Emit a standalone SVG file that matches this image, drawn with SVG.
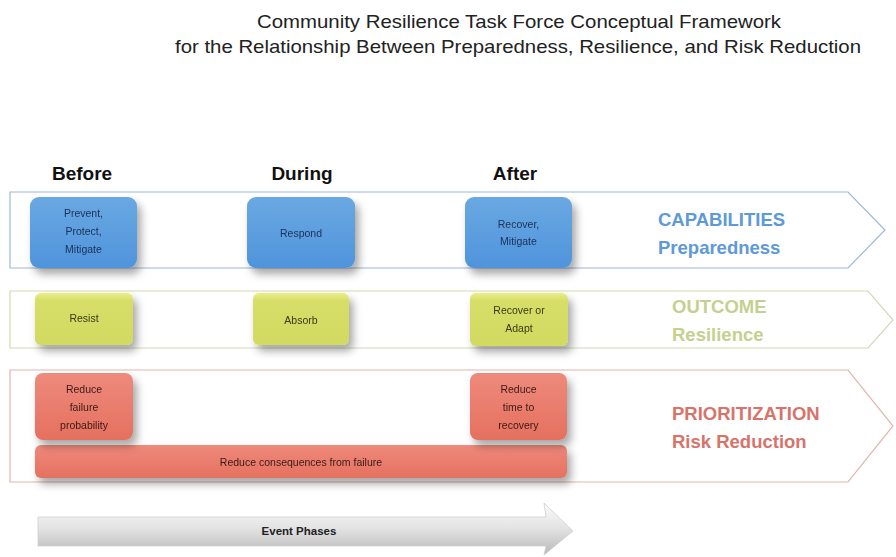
<svg xmlns="http://www.w3.org/2000/svg" width="896" height="557" viewBox="0 0 896 557">
<defs>
<filter id="sh" x="-20%" y="-20%" width="160%" height="170%">
<feDropShadow dx="4" dy="6" stdDeviation="4" flood-color="#000" flood-opacity="0.35"/>
</filter>
<linearGradient id="gB" x1="0" y1="0" x2="0" y2="1"><stop offset="0" stop-color="#6aa8e2"/><stop offset="1" stop-color="#4f94dc"/></linearGradient>
<linearGradient id="gY" x1="0" y1="0" x2="0" y2="1"><stop offset="0" stop-color="#e9ee85"/><stop offset="0.15" stop-color="#d6de68"/><stop offset="1" stop-color="#d2da62"/></linearGradient>
<linearGradient id="gR" x1="0" y1="0" x2="0" y2="1"><stop offset="0" stop-color="#ee8a7c"/><stop offset="1" stop-color="#e5705f"/></linearGradient>
<linearGradient id="gA" x1="0" y1="0" x2="0" y2="1"><stop offset="0" stop-color="#fbfbfb"/><stop offset="0.5" stop-color="#e2e2e2"/><stop offset="1" stop-color="#b8b8b8"/></linearGradient>
</defs>
<style>
text{font-family:"Liberation Sans",Arial,sans-serif}
.title{font-size:18.5px;fill:#222;text-anchor:middle}
.hdr{font-size:19px;font-weight:bold;fill:#111;text-anchor:middle}
.band{fill:#fff;stroke-width:1.2}
.bt{font-size:10.5px;text-anchor:middle}
.lab{font-size:18.5px;font-weight:bold}
</style>
<g id="title">
<text class="title" x="519" y="28" textLength="524" lengthAdjust="spacingAndGlyphs">Community Resilience Task Force Conceptual Framework</text>
<text class="title" x="518" y="53" textLength="686" lengthAdjust="spacingAndGlyphs">for the Relationship Between Preparedness, Resilience, and Risk Reduction</text>
</g>
<g id="headers">
<text class="hdr" x="82" y="180">Before</text>
<text class="hdr" x="302" y="180">During</text>
<text class="hdr" x="515" y="180">After</text>
</g>
<g id="band-capabilities">
<polygon class="band" points="10,192 848,192 885,230 848,268 10,268" stroke="#9fb8d6"/>
<text class="lab" x="658" y="226" fill="#5d9ad6">CAPABILITIES</text>
<text class="lab" x="658" y="254" fill="#5d9ad6">Preparedness</text>
</g>
<g id="band-outcome">
<polygon class="band" points="10,291 868,291 893,320 868,348 10,348" stroke="#d4d9b4"/>
<text class="lab" x="672" y="313" fill="#c5d08f">OUTCOME</text>
<text class="lab" x="672" y="341" fill="#c5d08f">Resilience</text>
</g>
<g id="band-prioritization">
<polygon class="band" points="10,370 848,370 893,426 848,482 10,482" stroke="#e2b5b0"/>
<text class="lab" x="672" y="420" fill="#d8736a">PRIORITIZATION</text>
<text class="lab" x="672" y="448" fill="#d8736a">Risk Reduction</text>
</g>
<g id="n-prevent" filter="url(#sh)">
<rect x="30" y="197" width="107" height="71" rx="9" fill="url(#gB)"/>
<text class="bt" fill="#1b3058" x="83.5" y="217">Prevent,</text>
<text class="bt" fill="#1b3058" x="83.5" y="235">Protect,</text>
<text class="bt" fill="#1b3058" x="83.5" y="253">Mitigate</text>
</g>
<g id="n-respond" filter="url(#sh)">
<rect x="247" y="197" width="108" height="71" rx="9" fill="url(#gB)"/>
<text class="bt" fill="#1b3058" x="301" y="237">Respond</text>
</g>
<g id="n-recover" filter="url(#sh)">
<rect x="465" y="197" width="107" height="71" rx="9" fill="url(#gB)"/>
<text class="bt" fill="#1b3058" x="518.5" y="228">Recover,</text>
<text class="bt" fill="#1b3058" x="518.5" y="245">Mitigate</text>
</g>
<g id="n-resist" filter="url(#sh)">
<rect x="35" y="293" width="98" height="52" rx="6" fill="url(#gY)"/>
<text class="bt" fill="#3a3a12" x="84" y="322">Resist</text>
</g>
<g id="n-absorb" filter="url(#sh)">
<rect x="253" y="293" width="96" height="52" rx="6" fill="url(#gY)"/>
<text class="bt" fill="#3a3a12" x="301" y="324">Absorb</text>
</g>
<g id="n-adapt" filter="url(#sh)">
<rect x="470" y="293" width="98" height="53" rx="6" fill="url(#gY)"/>
<text class="bt" fill="#3a3a12" x="519" y="314">Recover or</text>
<text class="bt" fill="#3a3a12" x="519" y="332">Adapt</text>
</g>
<g id="n-consequences" filter="url(#sh)">
<rect x="35" y="445" width="532" height="33" rx="6" fill="url(#gR)"/>
<text class="bt" fill="#3a1a14" x="301" y="466">Reduce consequences from failure</text>
</g>
<g id="n-failure" filter="url(#sh)">
<rect x="35" y="373" width="98" height="67" rx="8" fill="url(#gR)"/>
<text class="bt" fill="#3a1a14" x="84" y="393">Reduce</text>
<text class="bt" fill="#3a1a14" x="84" y="411">failure</text>
<text class="bt" fill="#3a1a14" x="84" y="429">probability</text>
</g>
<g id="n-time" filter="url(#sh)">
<rect x="470" y="373" width="97" height="67" rx="8" fill="url(#gR)"/>
<text class="bt" fill="#3a1a14" x="518.5" y="393">Reduce</text>
<text class="bt" fill="#3a1a14" x="518.5" y="411">time to</text>
<text class="bt" fill="#3a1a14" x="518.5" y="429">recovery</text>
</g>
<g id="event-phases">
<polygon points="38,517 546,517 544,503 573,531 544,555 546,546 38,546" fill="url(#gA)" stroke="#cfcfcf" stroke-width="0.8"/>
<text x="299" y="535" font-size="11.5" font-weight="bold" fill="#222" text-anchor="middle">Event Phases</text>
</g>
</svg>
